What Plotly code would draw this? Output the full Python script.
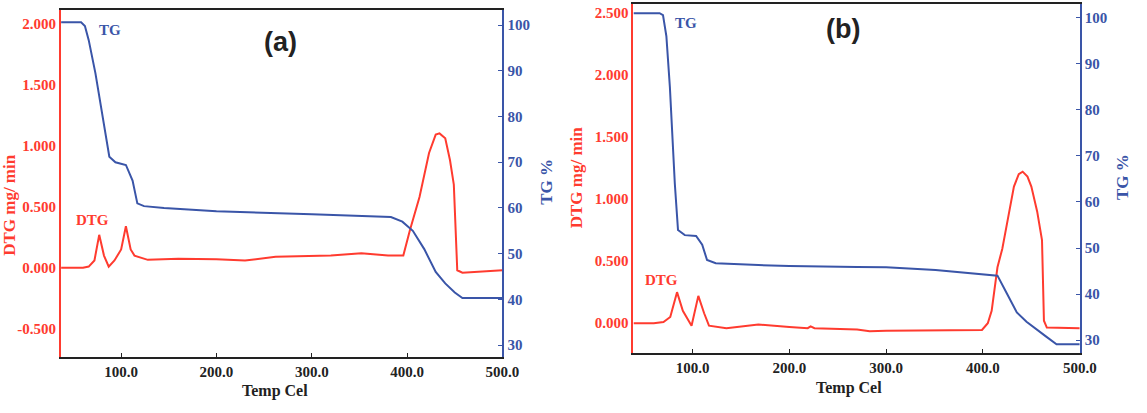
import plotly.graph_objects as go

# ---------------- data: panel (a) ----------------
tg_temp_a = [37, 58, 62, 66, 73, 76, 83.5, 87.6, 94, 105, 112, 117, 124, 145, 200, 248, 300, 383, 395, 406, 418, 430, 440, 450, 458, 500]
tg_a = [100.6, 100.6, 99.8, 96.7, 89.5, 85.8, 76.4, 71.2, 70.0, 69.4, 66.0, 61.0, 60.4, 60.0, 59.3, 58.9, 58.6, 58.0, 57.0, 55.0, 51.0, 46.0, 43.5, 41.5, 40.3, 40.3]

dtg_temp_a = [37, 60, 66, 72, 77, 82, 87, 93, 100, 105, 110, 114, 128, 160, 200, 230, 262, 300, 320, 352, 380, 396, 403, 413, 423, 430, 434, 440, 445, 449, 452.6, 458, 470, 500]
dtg_a = [0.0, 0.0, 0.01, 0.06, 0.27, 0.1, 0.01, 0.06, 0.15, 0.34, 0.15, 0.1, 0.065, 0.075, 0.07, 0.06, 0.09, 0.1, 0.1, 0.12, 0.1, 0.1, 0.31, 0.58, 0.94, 1.09, 1.1, 1.06, 0.88, 0.68, -0.02, -0.04, -0.035, -0.02]

# ---------------- data: panel (b) ----------------
tg_temp_b = [39, 66, 69.5, 73, 76.6, 81.7, 85, 92, 103.7, 110, 115, 124, 168, 200, 270, 300, 351, 415, 425, 435, 445, 453, 465, 476, 500]
tg_b = [101.0, 101.0, 100.6, 96.0, 85.0, 64.0, 53.9, 52.8, 52.6, 50.7, 47.4, 46.7, 46.3, 46.1, 45.9, 45.8, 45.2, 44.0, 40.0, 36.0, 34.0, 32.8, 30.8, 29.1, 29.1]

dtg_temp_b = [39, 60, 70, 77, 84, 90, 99, 106, 112, 117, 135, 168, 200, 219, 222, 226, 270, 283, 300, 351, 399, 405, 409, 415, 420, 426, 432, 437, 441, 446, 450, 456, 461, 463, 466, 500]
dtg_b = [0.0, 0.0, 0.01, 0.05, 0.25, 0.1, -0.02, 0.22, 0.08, -0.02, -0.04, -0.01, -0.03, -0.04, -0.025, -0.04, -0.05, -0.065, -0.06, -0.055, -0.055, 0.0, 0.1, 0.45, 0.6, 0.85, 1.1, 1.2, 1.22, 1.18, 1.1, 0.9, 0.67, 0.02, -0.035, -0.04]

x_ticks = [100, 200, 300, 400, 500]
tg_ticks = [30, 40, 50, 60, 70, 80, 90, 100]
dtg_ticks_a = [-0.5, 0.0, 0.5, 1.0, 1.5, 2.0]
dtg_ticks_b = [0.0, 0.5, 1.0, 1.5, 2.0, 2.5]

RED = "#ff3b2f"
BLUE = "#3a55a8"
W, H = 1147, 413
SERIF = "Liberation Serif"


def px(x):
    return x / W


def py(y):
    return 1 - y / H


def bold_labels(vals, fmt):
    return ["<b>" + format(v, fmt) + "</b>" for v in vals]


fig = go.Figure()
fig.add_trace(go.Scatter(x=dtg_temp_a, y=dtg_a, mode="lines", line=dict(color=RED, width=2), xaxis="x", yaxis="y"))
fig.add_trace(go.Scatter(x=tg_temp_a, y=tg_a, mode="lines", line=dict(color=BLUE, width=2), xaxis="x", yaxis="y2"))
fig.add_trace(go.Scatter(x=dtg_temp_b, y=dtg_b, mode="lines", line=dict(color=RED, width=2), xaxis="x2", yaxis="y3"))
fig.add_trace(go.Scatter(x=tg_temp_b, y=tg_b, mode="lines", line=dict(color=BLUE, width=2), xaxis="x2", yaxis="y4"))

tickfont_k = dict(family=SERIF, size=15, color="#222222")
tickfont_r = dict(family=SERIF, size=15, color=RED)
tickfont_b = dict(family=SERIF, size=15, color=BLUE)

xcommon = dict(tickvals=x_ticks, ticktext=bold_labels(x_ticks, ".1f"), showgrid=False, zeroline=False,
               showline=True, linecolor="#222222", linewidth=2, mirror=True,
               ticks="inside", ticklen=4, tickcolor="#222222", tickfont=tickfont_k)

fig.update_layout(
    width=W, height=H,
    margin=dict(l=0, r=0, t=0, b=0),
    paper_bgcolor="white", plot_bgcolor="white",
    showlegend=False,
    xaxis=dict(domain=[px(62), px(510)], range=[37, 500], anchor="y", **xcommon),
    yaxis=dict(domain=[py(357), py(10)], range=[-0.73, 2.11], anchor="x",
               tickvals=dtg_ticks_a, ticktext=bold_labels(dtg_ticks_a, ".3f"), showgrid=False, zeroline=False,
               showline=True, linecolor=RED, linewidth=2, ticks="", tickfont=tickfont_r),
    yaxis2=dict(domain=[py(357), py(10)], range=[27.4, 103.3], anchor="x", overlaying="y", side="right",
                tickvals=tg_ticks, ticktext=bold_labels(tg_ticks, "d"), showgrid=False, zeroline=False,
                showline=True, linecolor=BLUE, linewidth=2, ticks="inside", ticklen=4, tickcolor=BLUE,
                tickfont=tickfont_b),
    xaxis2=dict(domain=[px(643), px(1096)], range=[39, 500], anchor="y3", **xcommon),
    yaxis3=dict(domain=[py(353), py(4)], range=[-0.24, 2.57], anchor="x2",
                tickvals=dtg_ticks_b, ticktext=bold_labels(dtg_ticks_b, ".3f"), showgrid=False, zeroline=False,
                showline=True, linecolor=RED, linewidth=2, ticks="", tickfont=tickfont_r),
    yaxis4=dict(domain=[py(353), py(4)], range=[27.2, 103.0], anchor="x2", overlaying="y3", side="right",
                tickvals=tg_ticks, ticktext=bold_labels(tg_ticks, "d"), showgrid=False, zeroline=False,
                showline=True, linecolor=BLUE, linewidth=2, ticks="inside", ticklen=4, tickcolor=BLUE,
                tickfont=tickfont_b),
)

ann = []


def add_text(x, y, text, color, size, angle=0, family=SERIF):
    ann.append(dict(x=px(x), y=py(y), xref="paper", yref="paper", text=text, showarrow=False,
                    textangle=angle, xanchor="center", yanchor="middle",
                    font=dict(family=family, size=size, color=color)))


# panel labels
add_text(285, 42, "<b>(a)</b>", "#222222", 27, family="Liberation Sans")
add_text(856, 29, "<b>(b)</b>", "#222222", 27, family="Liberation Sans")
# curve labels
add_text(112, 30, "<b>TG</b>", BLUE, 15)
add_text(94, 220, "<b>DTG</b>", RED, 15)
add_text(696, 23, "<b>TG</b>", BLUE, 15)
add_text(671, 280, "<b>DTG</b>", RED, 15)
# axis titles
add_text(9, 205, "<b>DTG mg/ min</b>", RED, 17, angle=-90)
add_text(585, 177, "<b>DTG mg/ min</b>", RED, 17, angle=-90)
add_text(555, 182, "<b>TG %</b>", BLUE, 17, angle=-90)
add_text(1139, 177, "<b>TG %</b>", BLUE, 17, angle=-90)
add_text(279, 391, "<b>Temp Cel</b>", "#222222", 16)
add_text(862, 388, "<b>Temp Cel</b>", "#222222", 16)

fig.update_layout(annotations=ann)

fig.write_html("out.html")
